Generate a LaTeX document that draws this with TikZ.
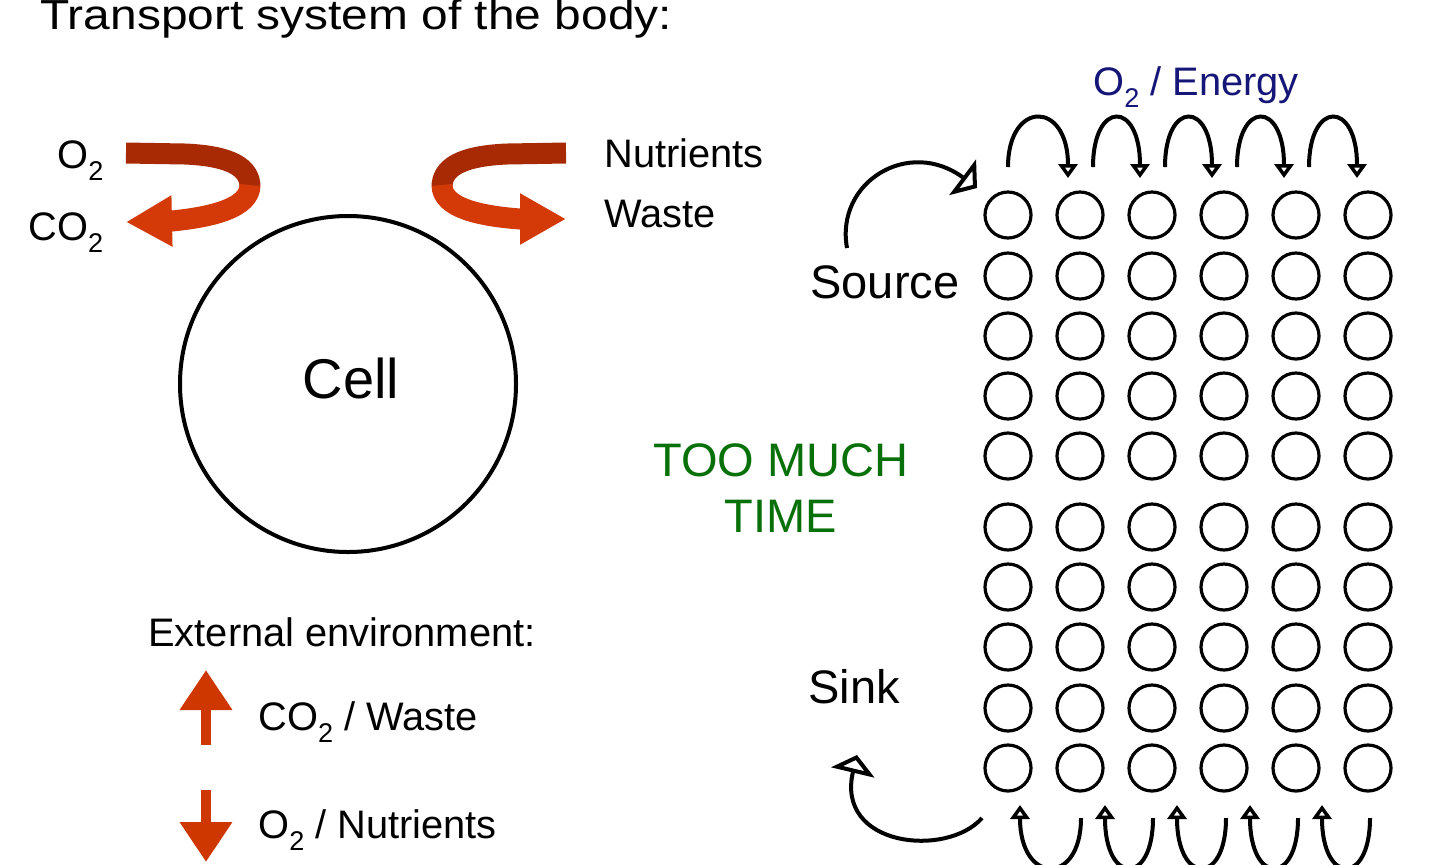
\documentclass[tikz,border=0pt]{standalone}
\usepackage{fontspec}
\setmainfont{Liberation Sans}
\usetikzlibrary{arrows.meta}

\definecolor{ribbonback}{RGB}{168,42,4}
\definecolor{ribbonfront}{RGB}{212,58,8}
\definecolor{flowred}{RGB}{206,56,0}
\definecolor{timegreen}{RGB}{8,112,8}
\definecolor{energyblue}{RGB}{22,22,120}

\newcommand{\lowtwo}{\raisebox{-0.32em}{\scalebox{0.68}{2}}}

\tikzset{
  lbl/.style={inner sep=0pt, anchor=base west, font=\fontsize{19.9}{23}\selectfont},
  biglbl/.style={inner sep=0pt, font=\fontsize{23.5}{28}\selectfont},
  cellbox/.style={circle, draw, line width=1.6pt, minimum size=23pt, inner sep=0pt},
  hop/.style={line width=2pt, -{Triangle[open, width=9.5pt, length=7pt]}},
  bigflow/.style={line width=2pt, -{Triangle[open, width=22pt, length=9pt]}},
  ribbon/.style={line width=10.5pt},
  updown/.style={flowred, line width=5pt, -{Triangle[width=25pt, length=20pt]}}
}

\begin{document}
\begin{tikzpicture}[x=0.5pt, y=-0.5pt]
\useasboundingbox[fill=white] (0,0) rectangle (1440,864);

% title
\node[anchor=base west, inner sep=0pt] (title) at (40,29)
  {\fontsize{21}{25}\selectfont\scalebox{1.14}[1]{Transport system of the body:}};

% the cell
\node[circle, draw, line width=2pt, minimum size=168pt, inner sep=0pt,
  font=\fontsize{28}{33}\selectfont] (cell) at (348,384) {};
\node[inner sep=0pt, anchor=base, font=\fontsize{28}{33}\selectfont] (celltxt) at (351,398) {Cell};

% exchange ribbons
\draw[ribbon, ribbonback] (126,153) -- (185,154) .. controls (232,156) and (250,168) .. (250,187);
\draw[ribbon, ribbonfront, -{Triangle[width=24pt, length=23pt]}]
  (250,185) .. controls (250,208) and (212,217) .. (172,221) -- (126,222);
\draw[ribbon, ribbonback] (566,153) -- (507,154) .. controls (460,156) and (442,168) .. (442,187);
\draw[ribbon, ribbonfront, -{Triangle[width=24pt, length=23pt]}]
  (442,185) .. controls (442,208) and (480,216) .. (520,219) -- (566,219);

\node[lbl] (otwo) at (57,168) {O\lowtwo};
\node[lbl] (cotwo) at (28,240) {CO\lowtwo};
\node[lbl] (nutr) at (604,167) {Nutrients};
\node[lbl] (waste) at (604,227) {Waste};

% external environment
\node[lbl] (extenv) at (148,646) {External environment:};
\coordinate (upfoot) at (206,745);
\coordinate (uptip) at (206,670);
\coordinate (dnfoot) at (206,790);
\coordinate (dntip) at (206,862);
\draw[updown] (upfoot) -- (uptip);
\draw[updown] (dnfoot) -- (dntip);
\node[lbl] (outlbl) at (258,730) {CO\lowtwo{} / Waste};
\node[lbl] (inlbl) at (258,838) {O\lowtwo{} / Nutrients};

% block of cells
\foreach \y [count=\r] in {215,276,336,396,456,527,587,647,708,768}
  \foreach \x [count=\c] in {1008,1080,1152,1224,1296,1368}
    \node[cellbox] (c-\r-\c) at (\x,\y) {};

\node[lbl, text=energyblue] (energy) at (1093,95) {O\lowtwo{} / Energy};
\foreach \s/\t [count=\i] in {1008/1068,1093/1140,1165/1212,1237/1284,1309/1357} {
  \coordinate (hopa\i) at (\s,167);
  \coordinate (hopb\i) at (\t,178);
  \draw[hop] (hopa\i) .. controls +(0,-67) and +(0,-78) .. (hopb\i);
}
\foreach \s/\t [count=\i] in {1081/1020,1153/1105,1226/1177,1298/1250,1370/1322} {
  \coordinate (lowa\i) at (\s,818);
  \coordinate (lowb\i) at (\t,805);
  \draw[hop] (lowa\i) .. controls +(0,68) and +(0,80) .. (lowb\i);
}

% source and sink
\node[biglbl, anchor=base west] (source) at (810,298) {Source};
\node[biglbl, anchor=base west] (sink) at (808,703) {Sink};
\coordinate (srca) at (847,248);
\coordinate (srcb) at (977,188);
\draw[bigflow] (srca) .. controls +(-12,-66) and +(-68,-51) .. (srcb);
\coordinate (snka) at (982,818);
\coordinate (snkb) at (857,755);
\draw[bigflow] (snka) .. controls +(-35,40) and +(-22,92) .. (snkb);

\node[biglbl, text=timegreen, align=center] (toolong) at (781,488) {TOO MUCH\\TIME};
\end{tikzpicture}
\end{document}
